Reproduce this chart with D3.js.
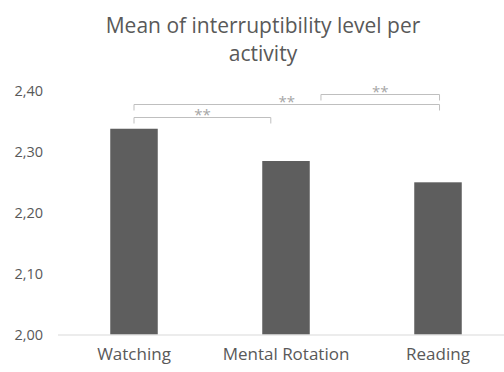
<!DOCTYPE html>
<html><head><meta charset="utf-8">
<script src="https://cdn.jsdelivr.net/npm/d3@7"></script>
<style>body{margin:0;background:#fff}svg{display:block}text{font-family:"Open Sans",sans-serif}</style>
</head><body>
<script>
const categories = ["Watching", "Mental Rotation", "Reading"];
const values = [2.338, 2.285, 2.250];
const yTicks = [2.00, 2.10, 2.20, 2.30, 2.40];
const titleLines = ["Mean of interruptibility level per", "activity"];
// significance brackets: from/to category, offsets in band steps, level in data units
const brackets = [
  {from: 0, to: 1, fromOff: 0, toOff: -0.1, level: 2.358, label: "**"},
  {from: 0, to: 2, fromOff: 0, toOff: 0.01, level: 2.379, label: "**"},
  {from: 1, to: 2, fromOff: 0.23, toOff: 0.01, level: 2.3946, label: "**"}
];

const W = 504, H = 372;
const svg = d3.select("body").append("svg").attr("width", W).attr("height", H);
const x = d3.scaleBand().domain(categories).range([58, 514]).paddingInner(0.6875).paddingOuter(0.34375);
const y = d3.scaleLinear().domain([2.0, 2.4]).range([334.5, 91]);

svg.append("g").selectAll("text").data(titleLines).join("text")
  .attr("x", 263).attr("y", (d, i) => 33 + i * 28).attr("text-anchor", "middle")
  .attr("font-size", 21).attr("fill", "#595959").text(d => d);

// y axis labels
const yAxis = d3.axisLeft(y).tickValues(yTicks).tickSize(0).tickPadding(0)
  .tickFormat(d => d3.format(".2f")(d).replace(".", ","));
const gy = svg.append("g").attr("transform", "translate(43,0)").call(yAxis);
gy.select(".domain").remove();
gy.selectAll("text").attr("font-size", 14.5).attr("fill", "#595959").attr("font-family", "Open Sans");

// bars
svg.append("g").selectAll("rect").data(values).join("rect")
  .attr("x", (d, i) => x(categories[i])).attr("width", x.bandwidth())
  .attr("y", d => y(d)).attr("height", d => y(2.0) - y(d)).attr("fill", "#5e5e5e");

// baseline
svg.append("line").attr("x1", 58).attr("x2", W).attr("y1", y(2.0) + 0.5).attr("y2", y(2.0) + 0.5)
  .attr("stroke", "#d9d9d9").attr("stroke-width", 1);

// x axis labels
const xAxis = d3.axisBottom(x).tickSize(0).tickPadding(0);
const gx = svg.append("g").attr("transform", `translate(0,${y(2.0) + 13})`).call(xAxis);
gx.select(".domain").remove();
gx.selectAll("text").attr("font-size", 17).attr("fill", "#595959").attr("font-family", "Open Sans");

// brackets
const cx = (i, off) => x(categories[i]) + x.bandwidth() / 2 + off * x.step();
const bg = svg.append("g");
brackets.forEach(b => {
  const x1 = cx(b.from, b.fromOff), x2 = cx(b.to, b.toOff), yy = Math.round(y(b.level)) + 0.5;
  bg.append("path").attr("d", `M${x1},${yy + 6}V${yy}H${x2}V${yy + 6}`)
    .attr("fill", "none").attr("stroke", "#bfbfbf").attr("stroke-width", 1);
  bg.append("text").attr("x", (x1 + x2) / 2).attr("y", yy + 2).attr("text-anchor", "middle")
    .attr("font-size", 15).attr("fill", "#a6a6a6").text(b.label);
});
</script>
</body></html>
